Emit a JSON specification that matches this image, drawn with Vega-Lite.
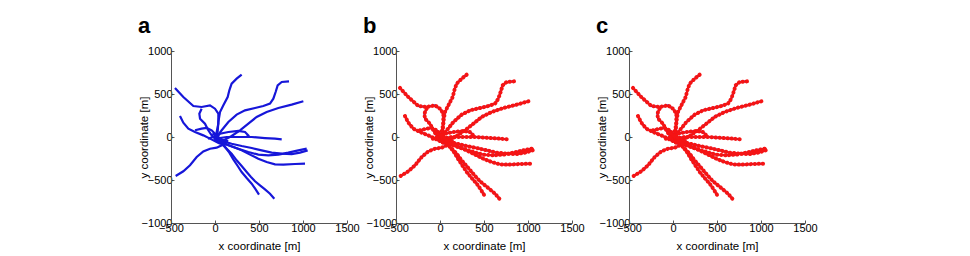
{
  "$schema": "https://vega.github.io/schema/vega-lite/v6.json",
  "padding": {"left": 138, "top": 15, "right": 0, "bottom": 0},
  "background": "white",
  "config": {
    "view": {"stroke": null},
    "font": "Liberation Sans",
    "title": {"fontSize": 22, "fontWeight": "bold", "anchor": "start", "frame": "bounds", "baseline": "alphabetic", "offset": 7, "color": "#000"},
    "axis": {
      "grid": false, "domainColor": "#555", "tickColor": "#555", "tickSize": -3, "labelPadding": 2, "format": "d",
      "labelFont": "Liberation Sans", "labelFontSize": 11, "labelColor": "#000", "labelFlush": false, "labelOverlap": false,
      "titleFont": "Liberation Sans", "titleFontSize": 11.5, "titleFontWeight": "normal", "titleColor": "#000"
    },
    "axisY": {"titleX": -24, "titleY": 86, "titleBaseline": "alphabetic"},
    "axisX": {"titleY": 23, "titleX": 88, "titleBaseline": "middle"}
  },
  "datasets": {
    "traj": [
      {"t":1,"o":1,"x":303,"y":725},{"t":1,"o":2,"x":246,"y":678},{"t":1,"o":3,"x":189,"y":620},{"t":1,"o":4,"x":163,"y":543},{"t":1,"o":5,"x":144,"y":465},{"t":1,"o":6,"x":95,"y":368},{"t":1,"o":7,"x":57,"y":291},{"t":1,"o":8,"x":38,"y":174},{"t":1,"o":9,"x":30,"y":58},{"t":1,"o":10,"x":10,"y":-20},
      {"t":2,"o":1,"x":-455,"y":570},{"t":2,"o":2,"x":-360,"y":465},{"t":2,"o":3,"x":-246,"y":360},{"t":2,"o":4,"x":-152,"y":349},{"t":2,"o":5,"x":-57,"y":368},{"t":2,"o":6,"x":0,"y":329},{"t":2,"o":7,"x":38,"y":271},{"t":2,"o":8,"x":38,"y":155},{"t":2,"o":9,"x":19,"y":58},{"t":2,"o":10,"x":0,"y":-30},
      {"t":3,"o":1,"x":841,"y":647},{"t":3,"o":2,"x":758,"y":640},{"t":3,"o":3,"x":712,"y":601},{"t":3,"o":4,"x":689,"y":523},{"t":3,"o":5,"x":663,"y":446},{"t":3,"o":6,"x":625,"y":388},{"t":3,"o":7,"x":549,"y":360},{"t":3,"o":8,"x":455,"y":337},{"t":3,"o":9,"x":341,"y":310},{"t":3,"o":10,"x":246,"y":260},{"t":3,"o":11,"x":152,"y":174},{"t":3,"o":12,"x":76,"y":78},{"t":3,"o":13,"x":19,"y":0},{"t":3,"o":14,"x":0,"y":-40},
      {"t":4,"o":1,"x":1004,"y":415},{"t":4,"o":2,"x":871,"y":376},{"t":4,"o":3,"x":720,"y":337},{"t":4,"o":4,"x":587,"y":291},{"t":4,"o":5,"x":473,"y":233},{"t":4,"o":6,"x":379,"y":155},{"t":4,"o":7,"x":284,"y":78},{"t":4,"o":8,"x":189,"y":12},{"t":4,"o":9,"x":95,"y":-39},{"t":4,"o":10,"x":20,"y":-60},
      {"t":5,"o":1,"x":-398,"y":244},{"t":5,"o":2,"x":-360,"y":167},{"t":5,"o":3,"x":-303,"y":97},{"t":5,"o":4,"x":-227,"y":58},{"t":5,"o":5,"x":-133,"y":19},{"t":5,"o":6,"x":-57,"y":-19},{"t":5,"o":7,"x":19,"y":-58},{"t":5,"o":8,"x":60,"y":-80},
      {"t":6,"o":1,"x":-152,"y":329},{"t":6,"o":2,"x":-178,"y":271},{"t":6,"o":3,"x":-170,"y":213},{"t":6,"o":4,"x":-114,"y":155},{"t":6,"o":5,"x":-76,"y":78},{"t":6,"o":6,"x":-38,"y":19},{"t":6,"o":7,"x":0,"y":-19},{"t":6,"o":8,"x":40,"y":-60},
      {"t":7,"o":1,"x":-227,"y":78},{"t":7,"o":2,"x":-152,"y":97},{"t":7,"o":3,"x":-95,"y":105},{"t":7,"o":4,"x":-38,"y":78},{"t":7,"o":5,"x":0,"y":39},{"t":7,"o":6,"x":30,"y":-10},
      {"t":8,"o":1,"x":0,"y":-20},{"t":8,"o":2,"x":57,"y":39},{"t":8,"o":3,"x":152,"y":58},{"t":8,"o":4,"x":265,"y":70},{"t":8,"o":5,"x":341,"y":58},{"t":8,"o":6,"x":379,"y":19},{"t":8,"o":7,"x":360,"y":0},
      {"t":9,"o":1,"x":758,"y":-27},{"t":9,"o":2,"x":682,"y":-19},{"t":9,"o":3,"x":568,"y":-12},{"t":9,"o":4,"x":417,"y":0},{"t":9,"o":5,"x":265,"y":0},{"t":9,"o":6,"x":133,"y":0},{"t":9,"o":7,"x":57,"y":-12},{"t":9,"o":8,"x":0,"y":-40},
      {"t":10,"o":1,"x":1042,"y":-136},{"t":10,"o":2,"x":947,"y":-155},{"t":10,"o":3,"x":833,"y":-182},{"t":10,"o":4,"x":720,"y":-205},{"t":10,"o":5,"x":606,"y":-213},{"t":10,"o":6,"x":492,"y":-205},{"t":10,"o":7,"x":379,"y":-174},{"t":10,"o":8,"x":265,"y":-136},{"t":10,"o":9,"x":152,"y":-97},{"t":10,"o":10,"x":76,"y":-66},{"t":10,"o":11,"x":10,"y":-40},
      {"t":11,"o":1,"x":1053,"y":-155},{"t":11,"o":2,"x":966,"y":-182},{"t":11,"o":3,"x":871,"y":-198},{"t":11,"o":4,"x":758,"y":-194},{"t":11,"o":5,"x":644,"y":-182},{"t":11,"o":6,"x":530,"y":-155},{"t":11,"o":7,"x":417,"y":-128},{"t":11,"o":8,"x":303,"y":-105},{"t":11,"o":9,"x":189,"y":-78},{"t":11,"o":10,"x":57,"y":-39},{"t":11,"o":11,"x":0,"y":-20},
      {"t":12,"o":1,"x":1023,"y":-310},{"t":12,"o":2,"x":909,"y":-314},{"t":12,"o":3,"x":777,"y":-322},{"t":12,"o":4,"x":682,"y":-318},{"t":12,"o":5,"x":587,"y":-291},{"t":12,"o":6,"x":492,"y":-252},{"t":12,"o":7,"x":398,"y":-205},{"t":12,"o":8,"x":303,"y":-155},{"t":12,"o":9,"x":208,"y":-116},{"t":12,"o":10,"x":114,"y":-78},{"t":12,"o":11,"x":30,"y":-40},
      {"t":13,"o":1,"x":-447,"y":-453},{"t":13,"o":2,"x":-360,"y":-399},{"t":13,"o":3,"x":-284,"y":-329},{"t":13,"o":4,"x":-208,"y":-233},{"t":13,"o":5,"x":-133,"y":-167},{"t":13,"o":6,"x":-57,"y":-136},{"t":13,"o":7,"x":19,"y":-124},{"t":13,"o":8,"x":76,"y":-97},{"t":13,"o":9,"x":60,"y":-50},
      {"t":14,"o":1,"x":674,"y":-717},{"t":14,"o":2,"x":625,"y":-659},{"t":14,"o":3,"x":568,"y":-609},{"t":14,"o":4,"x":511,"y":-562},{"t":14,"o":5,"x":455,"y":-515},{"t":14,"o":6,"x":409,"y":-465},{"t":14,"o":7,"x":360,"y":-407},{"t":14,"o":8,"x":303,"y":-337},{"t":14,"o":9,"x":246,"y":-271},{"t":14,"o":10,"x":189,"y":-194},{"t":14,"o":11,"x":133,"y":-136},{"t":14,"o":12,"x":76,"y":-78},{"t":14,"o":13,"x":30,"y":-27},
      {"t":15,"o":1,"x":500,"y":-671},{"t":15,"o":2,"x":462,"y":-609},{"t":15,"o":3,"x":417,"y":-543},{"t":15,"o":4,"x":360,"y":-477},{"t":15,"o":5,"x":303,"y":-407},{"t":15,"o":6,"x":258,"y":-337},{"t":15,"o":7,"x":208,"y":-260},{"t":15,"o":8,"x":163,"y":-182},{"t":15,"o":9,"x":114,"y":-116},{"t":15,"o":10,"x":68,"y":-50},{"t":15,"o":11,"x":20,"y":-10},
      {"t":16,"o":1,"x":-80,"y":-20},{"t":16,"o":2,"x":0,"y":10},{"t":16,"o":3,"x":80,"y":-30},{"t":16,"o":4,"x":150,"y":-50},
      {"t":17,"o":1,"x":-30,"y":40},{"t":17,"o":2,"x":40,"y":0},{"t":17,"o":3,"x":90,"y":-60},{"t":17,"o":4,"x":130,"y":-90}
    ]
  },
  "spacing": 3,
  "hconcat": [
    {
      "title": {"text": "a"},
      "width": 176, "height": 172,
      "data": {"name": "traj"},
      "mark": {"type": "line", "color": "#1616d9", "strokeWidth": 2.2, "clip": true},
      "encoding": {
        "x": {"field": "x", "type": "quantitative", "scale": {"domain": [-500, 1500], "nice": false}, "axis": {"values": [-500, 0, 500, 1000, 1500], "title": "x coordinate [m]"}},
        "y": {"field": "y", "type": "quantitative", "scale": {"domain": [-1000, 1000], "nice": false}, "axis": {"values": [-1000, -500, 0, 500, 1000], "title": "y coordinate [m]"}},
        "detail": {"field": "t"},
        "order": {"field": "o"}
      }
    },
    {
      "spacing": 11,
      "hconcat": [
        {
          "title": {"text": "b"},
          "width": 176, "height": 172,
          "data": {"name": "traj"},
          "encoding": {
            "x": {"field": "x", "type": "quantitative", "scale": {"domain": [-500, 1500], "nice": false}, "axis": {"values": [-500, 0, 500, 1000, 1500], "title": "x coordinate [m]"}},
            "y": {"field": "y", "type": "quantitative", "scale": {"domain": [-1000, 1000], "nice": false}, "axis": {"values": [-1000, -500, 0, 500, 1000], "title": "y coordinate [m]"}},
            "detail": {"field": "t"},
            "order": {"field": "o"}
          },
          "layer": [
            {"mark": {"type": "line", "color": "#1616d9", "strokeWidth": 2, "clip": true}},
            {"mark": {"type": "line", "color": "#f51414", "strokeWidth": 4, "strokeCap": "round", "strokeDash": [0.3, 3.7], "clip": true}}
          ]
        },
        {
          "title": {"text": "c"},
          "width": 176, "height": 172,
          "data": {"name": "traj"},
          "encoding": {
            "x": {"field": "x", "type": "quantitative", "scale": {"domain": [-500, 1500], "nice": false}, "axis": {"values": [-500, 0, 500, 1000, 1500], "title": "x coordinate [m]"}},
            "y": {"field": "y", "type": "quantitative", "scale": {"domain": [-1000, 1000], "nice": false}, "axis": {"values": [-1000, -500, 0, 500, 1000], "title": "y coordinate [m]"}},
            "detail": {"field": "t"},
            "order": {"field": "o"}
          },
          "layer": [
            {"mark": {"type": "line", "color": "#1616d9", "strokeWidth": 2, "clip": true}},
            {"mark": {"type": "line", "color": "#f51414", "strokeWidth": 4, "strokeCap": "round", "strokeDash": [0.3, 3.7], "clip": true}}
          ]
        }
      ]
    }
  ]
}
